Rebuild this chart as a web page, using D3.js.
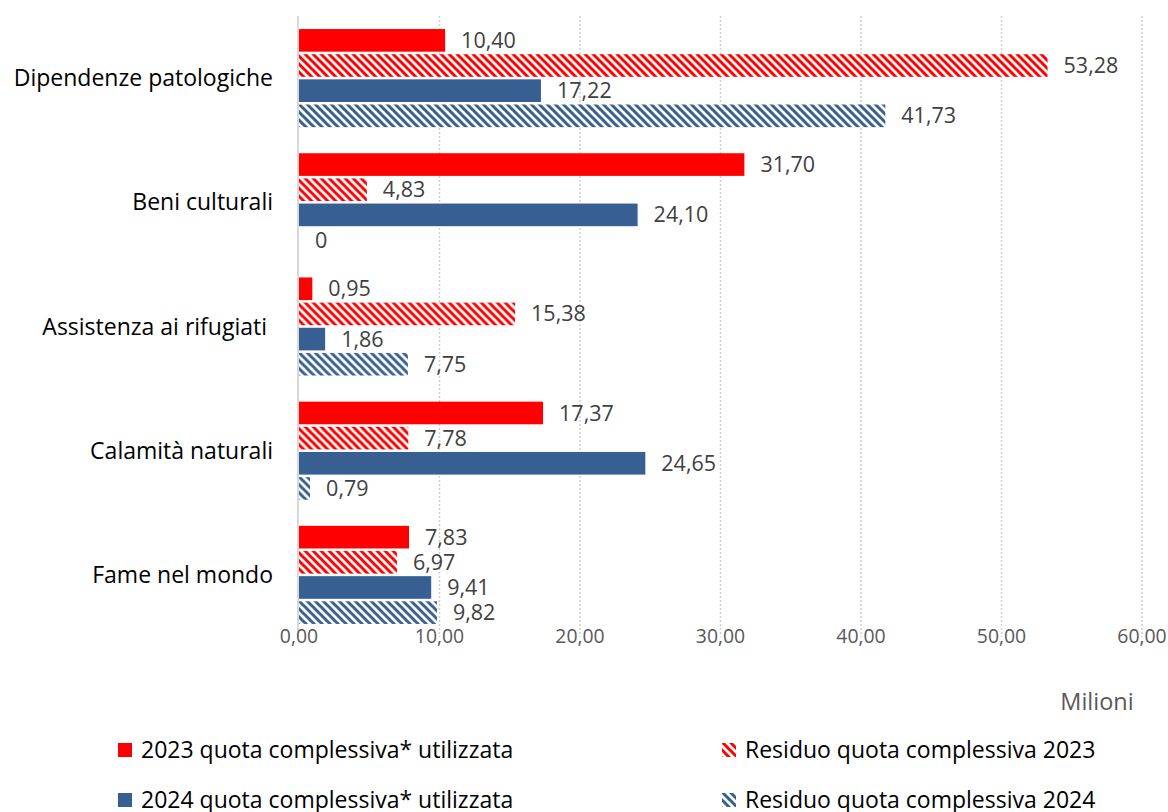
<!DOCTYPE html>
<html>
<head>
<meta charset="utf-8">
<script src="https://cdn.jsdelivr.net/npm/d3@7"></script>
<style>
body { margin: 0; background: #fff; }
svg { font-family: "Open Sans", "Noto Sans", sans-serif; }
</style>
</head>
<body>
<script>
// dati
var categories = ["Dipendenze patologiche", "Beni culturali", "Assistenza ai rifugiati ", "Calamità naturali", "Fame nel mondo"];
var seriesNames = ["2023 quota complessiva* utilizzata", "Residuo quota complessiva 2023", "2024 quota complessiva* utilizzata", "Residuo quota complessiva 2024"];
var used2023 = [10.40, 31.70, 0.95, 17.37, 7.83];
var residuo2023 = [53.28, 4.83, 15.38, 7.78, 6.97];
var used2024 = [17.22, 24.10, 1.86, 24.65, 9.41];
var residuo2024 = [41.73, 0, 7.75, 0.79, 9.82];
var xTicks = [0, 10, 20, 30, 40, 50, 60];

var series = [used2023, residuo2023, used2024, residuo2024];
var red = "#ff0000", blue = "#375f92";

var width = 1168, height = 812;
var plot = {left: 299, right: 1142, top: 16, bottom: 637};

var svg = d3.select("body").append("svg").attr("width", width).attr("height", height);

//填充图案
var defs = svg.append("defs");
function hatch(id, color) {
    var p = defs.append("pattern").attr("id", id).attr("patternUnits", "userSpaceOnUse")
        .attr("width", 8).attr("height", 8);
    p.append("rect").attr("width", 8).attr("height", 8).attr("fill", "#fff");
    p.append("path").attr("d", "M0,0 L8,8 M-4,4 L4,12 M4,-4 L12,4")
        .attr("stroke", color).attr("stroke-width", 3);
}
hatch("hatchRed", red);
hatch("hatchBlue", blue);
var fills = [red, "url(#hatchRed)", blue, "url(#hatchBlue)"];

var x = d3.scaleLinear().domain([0, 60]).range([plot.left, plot.right]);
var y = d3.scaleBand().domain(categories).range([plot.top, plot.bottom]).paddingInner(0.21).paddingOuter(0.105);
var y1 = d3.scaleBand().domain(d3.range(4)).range([0, y.bandwidth()]).paddingInner(0.1).paddingOuter(0);

// griglia
svg.append("g").selectAll("line").data(xTicks.slice(1)).enter().append("line")
    .attr("x1", function (d) { return x(d); }).attr("x2", function (d) { return x(d); })
    .attr("y1", plot.top).attr("y2", plot.bottom)
    .attr("stroke", "#d0d0d0").attr("stroke-width", 1.5).attr("stroke-dasharray", "2,2");

// barre
var groups = svg.append("g").selectAll("g").data(categories).enter().append("g")
    .attr("transform", function (d) { return "translate(0," + y(d) + ")"; });
groups.selectAll("rect").data(function (d, i) {
    return series.map(function (s, k) { return {k: k, v: s[i]}; });
}).enter().append("rect")
    .attr("x", x(0))
    .attr("y", function (d) { return y1(d.k); })
    .attr("width", function (d) { return x(d.v) - x(0); })
    .attr("height", y1.bandwidth())
    .attr("fill", function (d) { return fills[d.k]; });
groups.selectAll("text").data(function (d, i) {
    return series.map(function (s, k) { return {k: k, v: s[i]}; });
}).enter().append("text")
    .attr("x", function (d) { return x(d.v) + 16; })
    .attr("y", function (d) { return y1(d.k) + y1.bandwidth() / 2; })
    .attr("dy", "0.35em")
    .attr("font-size", 21.5).attr("fill", "#404040")
    .text(function (d) { return d.v === 0 ? "0" : d3.format(".2f")(d.v).replace(".", ","); });

// asse verticale
svg.append("line").attr("x1", plot.left - 1).attr("x2", plot.left - 1)
    .attr("y1", plot.top).attr("y2", plot.bottom).attr("stroke", "#d9d9d9").attr("stroke-width", 2);

// etichette categorie
svg.append("g").selectAll("text").data(categories).enter().append("text")
    .attr("x", 273).attr("y", function (d) { return y(d) + y.bandwidth() / 2; })
    .attr("dy", "0.35em").attr("text-anchor", "end")
    .style("white-space", "pre")
    .attr("font-size", 23).attr("fill", "#000")
    .text(function (d) { return d; });

// etichette asse x
svg.append("g").selectAll("text").data(xTicks).enter().append("text")
    .attr("x", function (d) { return x(d); }).attr("y", 636).attr("dy", "0.35em")
    .attr("text-anchor", "middle").attr("font-size", 19.4).attr("fill", "#595959")
    .text(function (d) { return d3.format(".2f")(d).replace(".", ","); });
svg.append("text").attr("x", 1097).attr("y", 702).attr("dy", "0.35em")
    .attr("text-anchor", "middle").attr("font-size", 23.5).attr("fill", "#595959").text("Milioni");

// legenda
var legendPos = [[118, 750], [722, 750], [118, 800], [722, 800]];
var legend = svg.append("g").selectAll("g").data(seriesNames).enter().append("g")
    .attr("transform", function (d, i) { return "translate(" + legendPos[i][0] + "," + legendPos[i][1] + ")"; });
legend.append("rect").attr("x", 0).attr("y", -7).attr("width", 14).attr("height", 14)
    .attr("fill", function (d, i) { return fills[i]; });
legend.append("text").attr("x", 23).attr("dy", "0.35em").attr("font-size", 23).attr("fill", "#000")
    .text(function (d) { return d; });
</script>
</body>
</html>
